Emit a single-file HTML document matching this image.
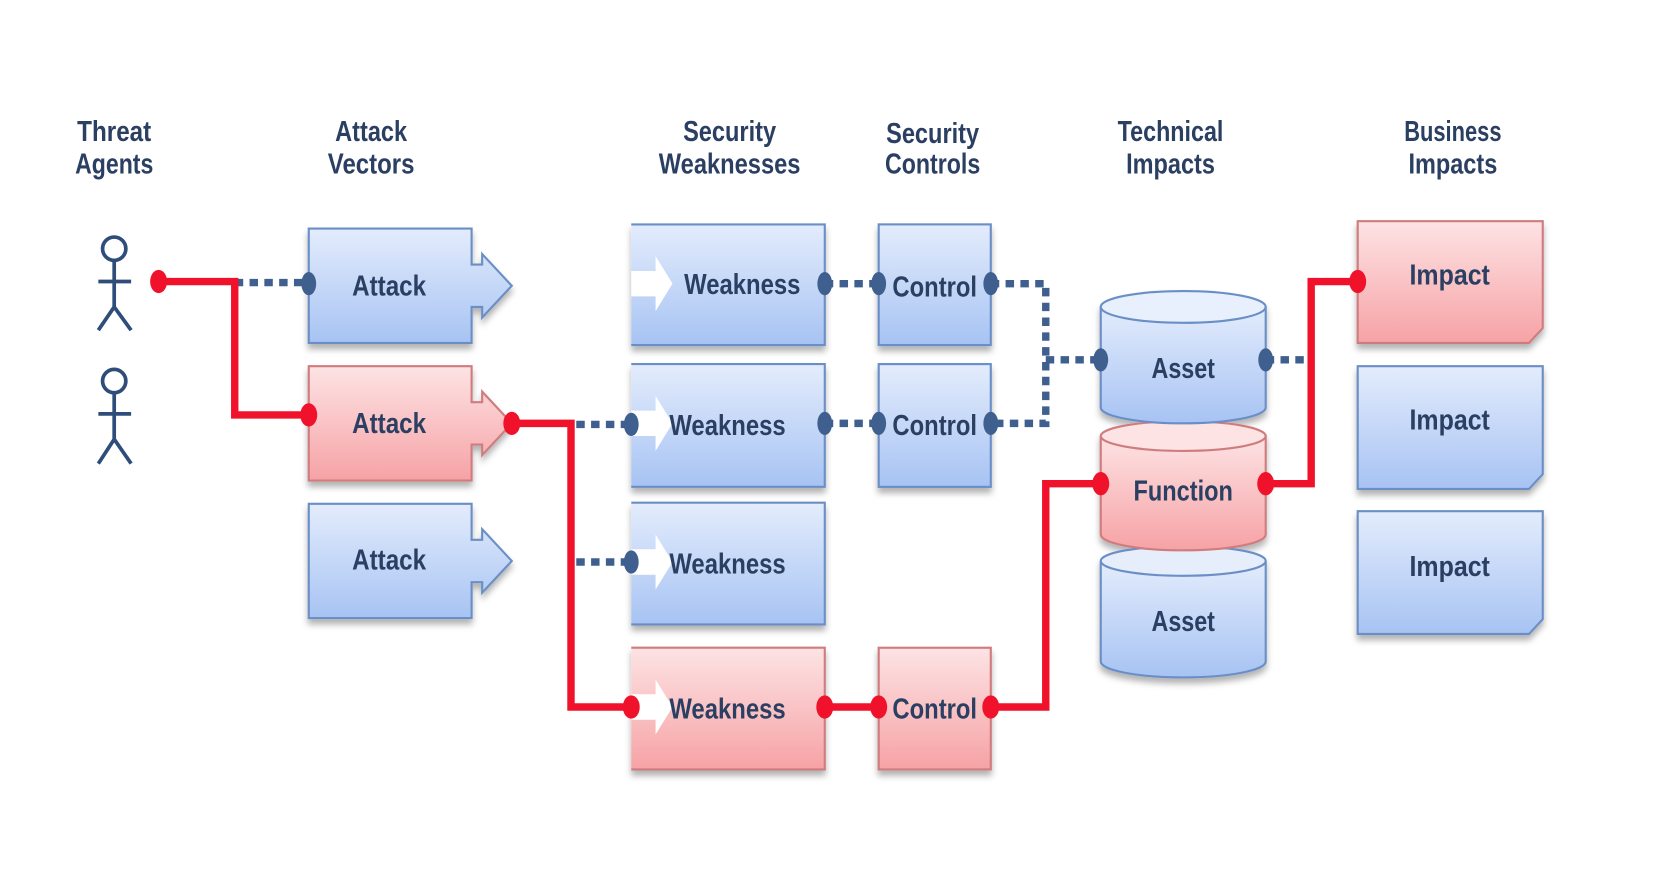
<!DOCTYPE html>
<html><head><meta charset="utf-8"><style>
html,body{margin:0;padding:0;background:#fff;}
svg{display:block;}
text{font-family:"Liberation Sans Narrow","Liberation Sans",sans-serif;font-weight:bold;fill:#2b3f63;}
</style></head><body>
<svg width="1658" height="888" viewBox="0 0 1568 839" preserveAspectRatio="none" xmlns="http://www.w3.org/2000/svg">
<defs>
<linearGradient id="gb" x1="0" y1="0" x2="0" y2="1"><stop offset="0" stop-color="#e3ecfc"/><stop offset="1" stop-color="#a7c3f3"/></linearGradient>
<linearGradient id="gr" x1="0" y1="0" x2="0" y2="1"><stop offset="0" stop-color="#fde3e4"/><stop offset="1" stop-color="#f6a2a5"/></linearGradient>
<filter id="sh" x="-10%" y="-10%" width="120%" height="130%"><feDropShadow dx="0" dy="5" stdDeviation="3" flood-color="#000" flood-opacity="0.3"/></filter>
</defs>
<rect width="1568" height="839" fill="#fff"/>
<g font-size="27" text-anchor="middle">
<text x="108" y="133" textLength="70" lengthAdjust="spacingAndGlyphs">Threat</text>
<text x="108" y="164" textLength="74" lengthAdjust="spacingAndGlyphs">Agents</text>
<text x="351" y="133" textLength="68" lengthAdjust="spacingAndGlyphs">Attack</text>
<text x="351" y="164" textLength="82" lengthAdjust="spacingAndGlyphs">Vectors</text>
<text x="690" y="133" textLength="88" lengthAdjust="spacingAndGlyphs">Security</text>
<text x="690" y="164" textLength="134" lengthAdjust="spacingAndGlyphs">Weaknesses</text>
<text x="882" y="135" textLength="88" lengthAdjust="spacingAndGlyphs">Security</text>
<text x="882" y="164" textLength="90" lengthAdjust="spacingAndGlyphs">Controls</text>
<text x="1107" y="133" textLength="100" lengthAdjust="spacingAndGlyphs">Technical</text>
<text x="1107" y="164" textLength="84" lengthAdjust="spacingAndGlyphs">Impacts</text>
<text x="1374" y="133" textLength="92" lengthAdjust="spacingAndGlyphs">Business</text>
<text x="1374" y="164" textLength="84" lengthAdjust="spacingAndGlyphs">Impacts</text>
</g>
<g stroke="#2f4d7a" stroke-width="3.5" fill="none">
<circle cx="108" cy="235" r="11"/><path d="M108 246V290M93 266H124M108 290L93 312M108 290L124 312"/>
<circle cx="108" cy="360" r="11"/><path d="M108 371V415M93 391H124M108 415L93 438M108 415L124 438"/>
</g>
<g filter="url(#sh)" stroke-width="2">
<path d="M292 216H446V250H456V240L484 270L456 300V290H446V324H292Z" fill="url(#gb)" stroke="#6b8ec6"/>
<path d="M292 346H446V380H456V370L484 400L456 430V420H446V454H292Z" fill="url(#gr)" stroke="#cf7b7e"/>
<path d="M292 476H446V510H456V500L484 530L456 560V550H446V584H292Z" fill="url(#gb)" stroke="#6b8ec6"/>
</g>
<g filter="url(#sh)" stroke-width="2">
<path d="M597 212H780V326H597" fill="url(#gb)" stroke="#6b8ec6"/>
<path d="M597 344H780V460H597" fill="url(#gb)" stroke="#6b8ec6"/>
<path d="M597 475H780V590H597" fill="url(#gb)" stroke="#6b8ec6"/>
<path d="M597 612H780V727H597" fill="url(#gr)" stroke="#cf7b7e"/>
<rect x="831" y="212" width="106" height="114" fill="url(#gb)" stroke="#6b8ec6"/>
<rect x="831" y="344" width="106" height="116" fill="url(#gb)" stroke="#6b8ec6"/>
<rect x="831" y="612" width="106" height="115" fill="url(#gr)" stroke="#cf7b7e"/>
</g>
<g fill="#fff">
<path d="M597 256H620V242L636 268L620 294V280H597Z"/>
<path d="M597 388H620V374L636 400L620 426V412H597Z"/>
<path d="M597 519H620V505L636 531L620 557V543H597Z"/>
<path d="M597 656H620V642L636 668L620 694V680H597Z"/>
</g>
<g filter="url(#sh)" stroke-width="2">
<path d="M1284 209H1459V310L1446 324H1284Z" fill="url(#gr)" stroke="#cf7b7e"/>
<path d="M1284 346H1459V448L1446 462H1284Z" fill="url(#gb)" stroke="#6b8ec6"/>
<path d="M1284 483H1459V585L1446 599H1284Z" fill="url(#gb)" stroke="#6b8ec6"/>
</g>
<g filter="url(#sh)" stroke-width="2">
<path d="M1041 530V625A78 15 0 0 0 1197 625V530" fill="url(#gb)" stroke="#6b8ec6"/>
<ellipse cx="1119" cy="530" rx="78" ry="14" fill="#e6eefc" stroke="#6b8ec6"/>
<path d="M1041 412V505A78 15 0 0 0 1197 505V412" fill="url(#gr)" stroke="#cf7b7e"/>
<ellipse cx="1119" cy="412" rx="78" ry="14" fill="#fde3e4" stroke="#cf7b7e"/>
<path d="M1041 290V385A78 15 0 0 0 1197 385V290" fill="url(#gb)" stroke="#6b8ec6"/>
<ellipse cx="1119" cy="290" rx="78" ry="15" fill="#e9f0fd" stroke="#6b8ec6"/>
</g>
<g stroke="#3f5f8f" stroke-width="7" fill="none" stroke-dasharray="8,6">
<path d="M222 267H292"/>
<path d="M545 401H597"/>
<path d="M545 531H597"/>
<path d="M780 268H831"/>
<path d="M780 400H831"/>
<path d="M937 268H989V400H937"/>
<path d="M989 340H1041"/>
<path d="M1197 340H1240"/>
</g>
<g fill="#3f5f8f">
<ellipse cx="292" cy="268" rx="7" ry="11"/>
<ellipse cx="597" cy="401" rx="7" ry="11"/>
<ellipse cx="597" cy="531" rx="7" ry="11"/>
<ellipse cx="780" cy="268" rx="7" ry="11"/><ellipse cx="831" cy="268" rx="7" ry="11"/>
<ellipse cx="780" cy="400" rx="7" ry="11"/><ellipse cx="831" cy="400" rx="7" ry="11"/>
<ellipse cx="937" cy="268" rx="7" ry="11"/><ellipse cx="937" cy="400" rx="7" ry="11"/>
<ellipse cx="1041" cy="340" rx="7" ry="11"/><ellipse cx="1197" cy="340" rx="7" ry="11"/>
</g>
<g stroke="#f0112a" stroke-width="7" fill="none" stroke-linejoin="miter">
<path d="M150 266H222V392H292"/>
<path d="M484 400H540V668H597"/>
<path d="M780 668H831"/>
<path d="M937 668H989V457H1041"/>
<path d="M1197 457H1240V266H1284"/>
</g>
<g fill="#f0112a">
<ellipse cx="150" cy="266" rx="8" ry="11"/>
<ellipse cx="292" cy="392" rx="8" ry="11"/>
<ellipse cx="484" cy="400" rx="8" ry="11"/>
<ellipse cx="597" cy="668" rx="8" ry="11"/>
<ellipse cx="780" cy="668" rx="8" ry="11"/><ellipse cx="831" cy="668" rx="8" ry="11"/>
<ellipse cx="937" cy="668" rx="8" ry="11"/>
<ellipse cx="1041" cy="457" rx="8" ry="11"/><ellipse cx="1197" cy="457" rx="8" ry="11"/>
<ellipse cx="1284" cy="266" rx="8" ry="11"/>
</g>
<g font-size="27" text-anchor="middle">
<text x="368" y="279" textLength="70" lengthAdjust="spacingAndGlyphs">Attack</text>
<text x="368" y="409" textLength="70" lengthAdjust="spacingAndGlyphs">Attack</text>
<text x="368" y="538" textLength="70" lengthAdjust="spacingAndGlyphs">Attack</text>
<text x="702" y="278" textLength="110" lengthAdjust="spacingAndGlyphs">Weakness</text>
<text x="688" y="411" textLength="110" lengthAdjust="spacingAndGlyphs">Weakness</text>
<text x="688" y="542" textLength="110" lengthAdjust="spacingAndGlyphs">Weakness</text>
<text x="688" y="679" textLength="110" lengthAdjust="spacingAndGlyphs">Weakness</text>
<text x="884" y="280" textLength="80" lengthAdjust="spacingAndGlyphs">Control</text>
<text x="884" y="411" textLength="80" lengthAdjust="spacingAndGlyphs">Control</text>
<text x="884" y="679" textLength="80" lengthAdjust="spacingAndGlyphs">Control</text>
<text x="1119" y="357" textLength="60" lengthAdjust="spacingAndGlyphs">Asset</text>
<text x="1119" y="473" textLength="94" lengthAdjust="spacingAndGlyphs">Function</text>
<text x="1119" y="596" textLength="60" lengthAdjust="spacingAndGlyphs">Asset</text>
<text x="1371" y="269" textLength="76" lengthAdjust="spacingAndGlyphs">Impact</text>
<text x="1371" y="406" textLength="76" lengthAdjust="spacingAndGlyphs">Impact</text>
<text x="1371" y="544" textLength="76" lengthAdjust="spacingAndGlyphs">Impact</text>
</g>
</svg>
</body></html>
